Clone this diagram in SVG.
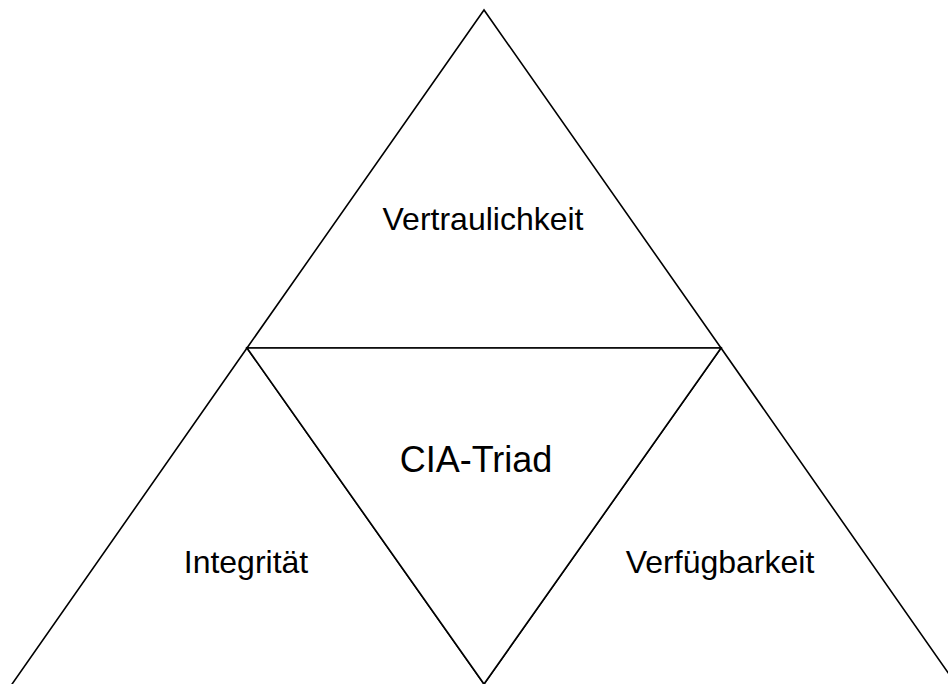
<svg xmlns="http://www.w3.org/2000/svg" width="948" height="684" viewBox="0 0 948 684">
  <style>
    .tri { fill: #ffffff; stroke: #000000; stroke-width: 1.6; stroke-linejoin: miter; }
    .lbl { font-family: "Liberation Sans", Arial, Helvetica, sans-serif; font-size: 32px; fill: #000000; text-anchor: middle; }
    .title { font-size: 36px; }
  </style>
  <rect x="0" y="0" width="948" height="684" fill="#ffffff"/>
  <!-- CIA triad: outer triangle split into four sub-triangles -->
  <g id="vertraulichkeit">
    <polygon class="tri" points="484,10 247,348 721,348"/>
    <text class="lbl" x="483" y="230">Vertraulichkeit</text>
  </g>
  <g id="integritaet">
    <polygon class="tri" points="247,348 10,687 486,687"/>
    <text class="lbl" x="246" y="573">Integrität</text>
  </g>
  <g id="verfuegbarkeit">
    <polygon class="tri" points="721,348 482,687 958,687"/>
    <text class="lbl" x="720" y="573">Verfügbarkeit</text>
  </g>
  <g id="cia-triad">
    <polygon class="tri" points="247,348 721,348 484,684" fill="none"/>
    <text class="lbl title" x="476" y="472">CIA-Triad</text>
  </g>
</svg>
